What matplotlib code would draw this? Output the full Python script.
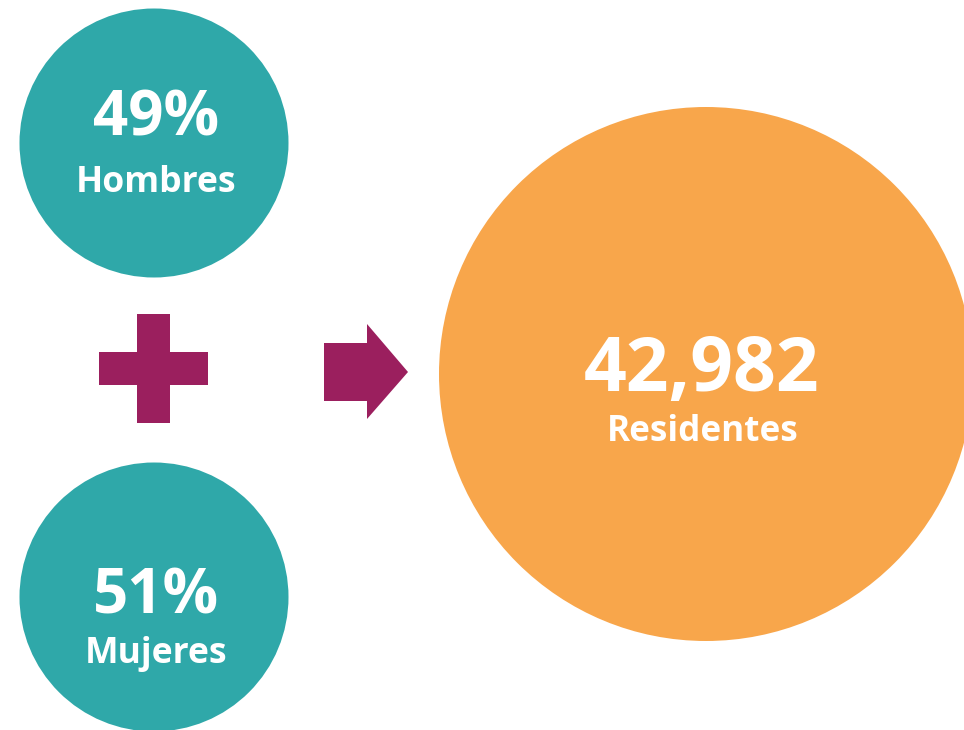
import matplotlib
matplotlib.use('Agg')
import matplotlib.pyplot as plt
from matplotlib.patches import Circle, Polygon, Rectangle

# Data
group_labels = ['Hombres', 'Mujeres']
group_pcts = [49, 51]
total_value = 42982
total_label = 'Residentes'

teal = '#2FA8A9'
purple = '#9B1F5E'
orange = '#F8A64B'
font = 'Open Sans'

fig = plt.figure(figsize=(9.64, 7.30), dpi=100)
ax = fig.add_axes([0, 0, 1, 1])
ax.set_xlim(0, 964)
ax.set_ylim(730, 0)
ax.set_aspect('equal')
ax.axis('off')

# two teal circles (top / bottom)
centers_y = [143, 597]
num_base = [136, 613]
lab_base = [192, 663]
for cy, nb, lb, lab, pct in zip(centers_y, num_base, lab_base,
                                group_labels, group_pcts):
    ax.add_patch(Circle((154, cy), 134.5, color=teal, lw=0))
    ax.text(156, nb, f'{pct}%', color='white', fontsize=44.5,
            fontweight='bold', family=font, ha='center', va='baseline')
    ax.text(156, lb, lab, color='white', fontsize=25.6,
            fontweight='bold', family=font, ha='center', va='baseline')

# plus sign
ax.add_patch(Rectangle((137, 314), 33, 109, color=purple, lw=0))
ax.add_patch(Rectangle((99, 352), 109, 33, color=purple, lw=0))

# arrow
ax.add_patch(Polygon([(324, 343), (367, 343), (367, 324), (408, 372),
                      (367, 419), (367, 401), (324, 401)],
                     closed=True, color=purple, lw=0))

# big orange circle
ax.add_patch(Circle((706, 374), 267, color=orange, lw=0))
ax.text(702, 391, f'{total_value:,}', color='white', fontsize=54,
        fontweight='bold', family=font, ha='center', va='baseline')
ax.text(703, 441, total_label, color='white', fontsize=25.3,
        fontweight='bold', family=font, ha='center', va='baseline')

fig.savefig('out.png', dpi=100)
